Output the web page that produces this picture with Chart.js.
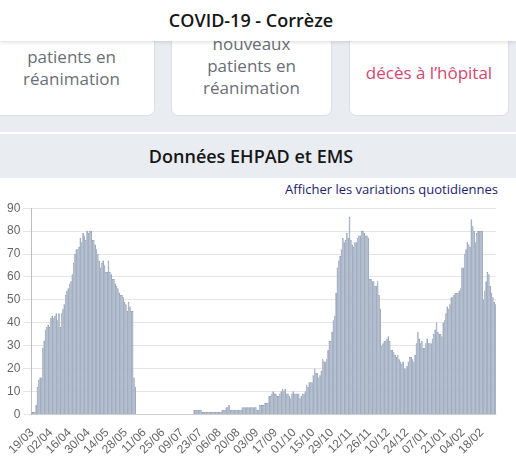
<!DOCTYPE html>
<html>
<head>
<meta charset="utf-8">
<script src="https://cdn.jsdelivr.net/npm/chart.js@4/dist/chart.umd.min.js"></script>
<style>
  html, body { margin: 0; padding: 0; }
  body { width: 516px; height: 458px; overflow: hidden; position: relative; background: #fff; font-family: "Open Sans", sans-serif; }
  #top { position: absolute; left: 0; top: 0; width: 516px; height: 41px; background: #fff; box-shadow: 0 1px 4px rgba(0,0,0,0.15); z-index: 3; }
  #top div { position: absolute; left: 0; width: 502px; top: 8px; text-align: center; font-size: 18px; font-weight: 600; color: #161616; }
  #grey { position: absolute; left: 0; top: 41px; width: 516px; height: 91px; background: #e9ecf1; }
  .card { position: absolute; top: 20px; height: 96px; background: #fff; border: 1px solid #dcdfe5; border-radius: 7px; box-sizing: border-box; z-index: 1; }
  .ctext { position: absolute; left: 0; right: 0; text-align: center; font-size: 17px; line-height: 22px; color: #6a6e76; }
  #band { position: absolute; left: 0; top: 134px; width: 516px; height: 44px; background: #e9ecf1; }
  #band div { position: absolute; left: 0; width: 502px; top: 10px; text-align: center; font-size: 18px; font-weight: 600; color: #161616; }
  #link { position: absolute; right: 18px; top: 180px; font-size: 13px; color: #1c1c6e; }
  #wrap { position: absolute; left: 0; top: 198px; width: 516px; height: 262px; }
</style>
</head>
<body>
<div id="top"><div>COVID-19 - Corrèze</div></div>
<div id="grey"></div>
<div class="card" style="left:-12px; width:167px;"><div class="ctext" style="top:25px;">patients en<br>réanimation</div></div>
<div class="card" style="left:171px; width:161px;"><div class="ctext" style="top:12px;">nouveaux<br>patients en<br>réanimation</div></div>
<div class="card" style="left:349px; width:160px;"><div class="ctext" style="top:41px; color:#d6476f;">décès à l’hôpital</div></div>
<div id="band"><div>Données EHPAD et EMS</div></div>
<div id="link">Afficher les variations quotidiennes</div>
<div id="wrap"><canvas id="c"></canvas></div>
<script>
// first day of the series and tick spacing (days)
const startDate = "2020-03-19";
const tickEvery = 14;

// daily values, in consecutive segments
const wave1 = [1,1,1,4,12,15,16,16,29,32,37,38,39,38,42,43,42,43,44,41,44,38,44,46,48,52,54,55,57,58,61,66,70,72,72,73,77,75,79,78,76,80,79,80,80,76,76,74,72,70,67,64,66,67,65,62,62,67,62,61,59,59,57,56,55,53,52,52,51,49,48,45,49,47,45,45,16,12];
const summerZeros = [0,0,0,0,0,0,0,0,0,0,0,0,0,0,0,0,0,0,0,0,0,0,0,0,0,0,0,0,0,0,0,0,0,0,0,0,0,0,0,0,0,0,0];
const summerLow = [2,2,2,2,2,2,1,1,1,1,1,1,1,1,1,1,1,1,1,1,1,2,2,2,3,3,4,2,2,2,2,2,2,2,2,2,3,3,3,3,3,3,3,3,3,3,3,2,2,4,4,4,4,5,5,5,8,8,9,10,9,9,8,8,9,10];
const autumnRise = [11,10,11,9,9,8,7,9,10,9,9,9,9,7,8,9,9,10,13,12,14,14,14,17,20,18,18,16,17,19,24,23,23,24,28,32,32,36,41,43,53];
const wave2and3 = [64,67,69,72,77,75,76,79,77,86,76,74,73,75,75,77,78,78,80,80,79,78,78,77,59,59,58,58,56,56,58,52,46,30,31,32,32,33,34,32,28,28,27,26,25,26,24,23,22,23,20,20,21,23,25,25,24,23,26,31,36,33,31,32,29,29,31,33,31,31,31,33,35,37,40,36,35,35,34,40,41,44,47,46,48,51,51,52,53,53,53,54,55,64,64,70,72,75,74,73,85,82,80,75,79,80,80,80,80,50,54,58,62,61,56,53,51,49,48];

const values = [].concat(wave1, summerZeros, summerLow, autumnRise, wave2and3);

// category labels DD/MM
const categories = [];
const d0 = new Date(startDate + "T00:00:00Z");
for (let i = 0; i < values.length; i++) {
  const d = new Date(d0.getTime() + i * 86400000);
  const dd = String(d.getUTCDate()).padStart(2, "0");
  const mm = String(d.getUTCMonth() + 1).padStart(2, "0");
  categories.push(dd + "/" + mm);
}

const yTicks = { min: 0, max: 90, step: 10 };

new Chart(document.getElementById("c"), {
  type: "bar",
  data: {
    labels: categories,
    datasets: [{
      data: values,
      backgroundColor: "#b2bdcd",
      borderColor: "#8d9ab0",
      borderWidth: { left: 0, right: 0.6, top: 0.6, bottom: 0 },
      barPercentage: 1,
      categoryPercentage: 1
    }]
  },
  options: {
    responsive: true,
    maintainAspectRatio: false,
    animation: false,
    layout: { padding: { left: 4, right: 20, top: 10, bottom: 0 } },
    plugins: { legend: { display: false }, tooltip: { enabled: false } },
    scales: {
      x: {
        grid: { display: false },
        border: { display: true, color: "rgba(0,0,0,0.1)" },
        ticks: {
          autoSkip: false,
          maxRotation: 45,
          minRotation: 45,
          color: "#666",
          font: { size: 12 },
          callback: function (v, i) { return i % tickEvery === 0 ? categories[i] : ""; }
        }
      },
      y: {
        min: yTicks.min,
        max: yTicks.max,
        grid: { color: "rgba(0,0,0,0.1)" },
        border: { color: "rgba(0,0,0,0.25)" },
        ticks: { stepSize: yTicks.step, color: "#666", font: { size: 12 } }
      }
    }
  }
});
</script>
</body>
</html>
